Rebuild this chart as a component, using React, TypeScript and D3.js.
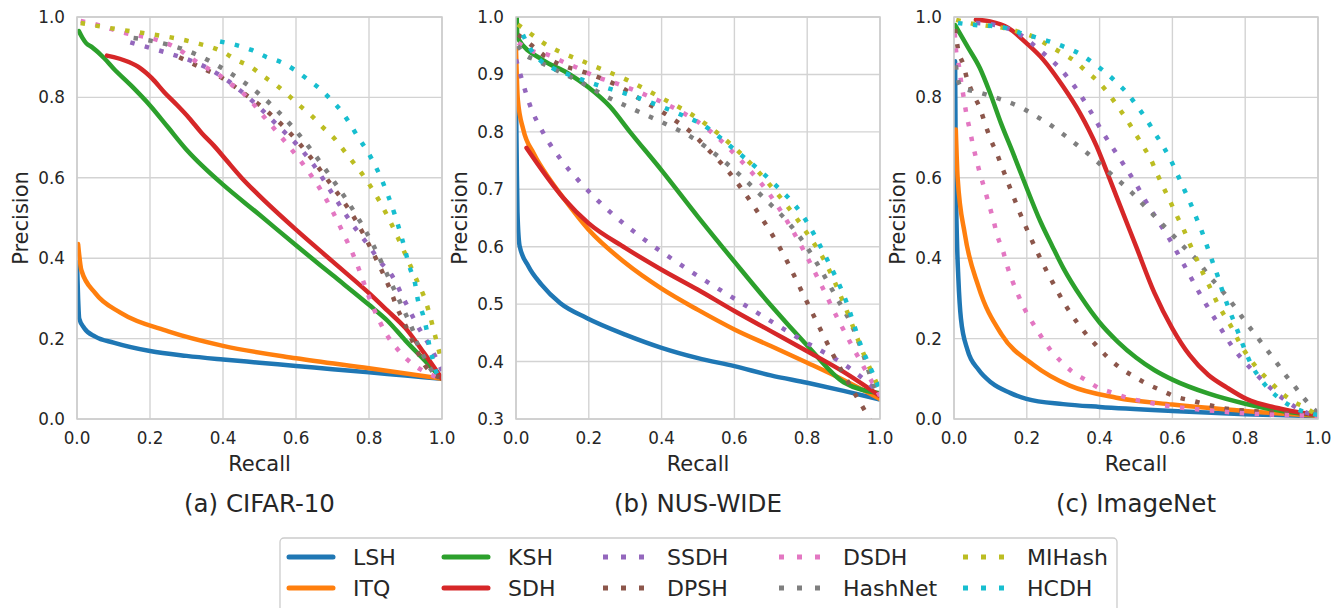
import React from "react";
import * as d3 from "d3";

type Pt = [number, number];

// ---------- labels ----------
const METHODS = ["LSH", "ITQ", "KSH", "SDH", "SSDH", "DPSH", "DSDH", "HashNet", "MIHash", "HCDH"];
const COLORS = ["#1f77b4", "#ff7f0e", "#2ca02c", "#d62728", "#9467bd", "#8c564b", "#e377c2", "#7f7f7f", "#bcbd22", "#17becf"];
const DOTTED = [false, false, false, false, true, true, true, true, true, true];
const DATASETS = ["(a) CIFAR-10", "(b) NUS-WIDE", "(c) ImageNet"];
const X_TICKS = [0, 0.2, 0.4, 0.6, 0.8, 1.0];
const Y_TICKS_A = [0, 0.2, 0.4, 0.6, 0.8, 1.0];
const Y_TICKS_B = [0.3, 0.4, 0.5, 0.6, 0.7, 0.8, 0.9, 1.0];
const Y_TICKS_C = [0, 0.2, 0.4, 0.6, 0.8, 1.0];

// ---------- CIFAR-10 ----------
const CIFAR_LSH: Pt[] = [[0, 0.39], [0.003, 0.3], [0.006, 0.25], [0.02, 0.226], [0.05, 0.205], [0.1, 0.19], [0.2, 0.169], [0.3, 0.157], [0.4, 0.148], [0.5, 0.14], [0.6, 0.132], [0.7, 0.124], [0.8, 0.116], [0.9, 0.108], [1, 0.1]];
const CIFAR_ITQ: Pt[] = [[0.003, 0.435], [0.012, 0.37], [0.05, 0.313], [0.12, 0.264], [0.25, 0.218], [0.4, 0.182], [0.6, 0.151], [0.8, 0.126], [1, 0.1]];
const CIFAR_KSH: Pt[] = [[0.005, 0.965], [0.015, 0.948], [0.025, 0.935], [0.041, 0.925], [0.074, 0.898], [0.1, 0.872], [0.15, 0.828], [0.2, 0.78], [0.25, 0.725], [0.3, 0.67], [0.35, 0.624], [0.4, 0.583], [0.5, 0.508], [0.6, 0.432], [0.7, 0.358], [0.8, 0.284], [0.85, 0.245], [0.9, 0.195], [0.95, 0.148], [1, 0.1]];
const CIFAR_SDH: Pt[] = [[0.082, 0.904], [0.142, 0.888], [0.173, 0.873], [0.205, 0.848], [0.241, 0.811], [0.274, 0.781], [0.307, 0.749], [0.342, 0.711], [0.375, 0.68], [0.41, 0.643], [0.45, 0.601], [0.5, 0.555], [0.6, 0.471], [0.7, 0.392], [0.8, 0.313], [0.85, 0.27], [0.9, 0.226], [0.95, 0.165], [1, 0.1]];
const CIFAR_SSDH: Pt[] = [[0.146, 0.937], [0.185, 0.927], [0.25, 0.91], [0.313, 0.891], [0.36, 0.872], [0.4, 0.85], [0.45, 0.815], [0.5, 0.775], [0.55, 0.73], [0.6, 0.685], [0.65, 0.63], [0.7, 0.56], [0.75, 0.49], [0.8, 0.43], [0.83, 0.392], [0.862, 0.358], [0.9, 0.29], [0.94, 0.221], [0.965, 0.184], [0.984, 0.151], [1, 0.12]];
const CIFAR_DPSH: Pt[] = [[0.28, 0.9], [0.34, 0.874], [0.387, 0.854], [0.45, 0.815], [0.524, 0.763], [0.588, 0.707], [0.693, 0.587], [0.76, 0.5], [0.807, 0.421], [0.844, 0.351], [0.862, 0.313], [0.877, 0.276], [0.896, 0.241], [0.914, 0.204], [0.932, 0.169], [0.953, 0.134], [0.98, 0.11], [1, 0.1]];
const CIFAR_DSDH: Pt[] = [[0.01, 0.99], [0.036, 0.985], [0.077, 0.975], [0.118, 0.963], [0.159, 0.955], [0.2, 0.948], [0.282, 0.918], [0.315, 0.896], [0.351, 0.876], [0.389, 0.856], [0.422, 0.833], [0.459, 0.807], [0.515, 0.749], [0.57, 0.69], [0.624, 0.628], [0.673, 0.562], [0.729, 0.463], [0.766, 0.388], [0.781, 0.351], [0.796, 0.313], [0.811, 0.279], [0.83, 0.241], [0.851, 0.206], [0.876, 0.176], [0.906, 0.147], [0.94, 0.124], [0.975, 0.108], [1, 0.1]];
const CIFAR_HASHNET: Pt[] = [[0.155, 0.948], [0.196, 0.942], [0.319, 0.91], [0.397, 0.873], [0.501, 0.807], [0.593, 0.724], [0.697, 0.6], [0.77, 0.5], [0.811, 0.434], [0.848, 0.363], [0.885, 0.291], [0.904, 0.254], [0.92, 0.221], [0.934, 0.184], [0.953, 0.151], [0.975, 0.117], [1, 0.105]];
const CIFAR_MIHASH: Pt[] = [[0.01, 0.985], [0.107, 0.97], [0.191, 0.959], [0.319, 0.937], [0.4, 0.913], [0.437, 0.893], [0.476, 0.876], [0.51, 0.853], [0.545, 0.831], [0.578, 0.806], [0.611, 0.779], [0.643, 0.754], [0.673, 0.726], [0.704, 0.699], [0.732, 0.667], [0.807, 0.575], [0.85, 0.506], [0.902, 0.405], [0.926, 0.355], [0.956, 0.291], [0.989, 0.179], [1, 0.14]];
const CIFAR_HCDH: Pt[] = [[0.392, 0.939], [0.437, 0.93], [0.478, 0.918], [0.518, 0.901], [0.558, 0.888], [0.597, 0.868], [0.63, 0.846], [0.666, 0.821], [0.696, 0.794], [0.725, 0.765], [0.75, 0.731], [0.77, 0.701], [0.795, 0.667], [0.834, 0.597], [0.87, 0.51], [0.89, 0.45], [0.912, 0.376], [0.926, 0.338], [0.934, 0.296], [0.948, 0.259], [0.958, 0.221], [0.965, 0.184], [0.975, 0.147], [0.989, 0.109], [1, 0.105]];

// ---------- NUS-WIDE ----------
const NUS_LSH: Pt[] = [[0, 0.86], [0.002, 0.75], [0.004, 0.66], [0.01, 0.601], [0.034, 0.566], [0.07, 0.534], [0.121, 0.502], [0.194, 0.476], [0.3, 0.447], [0.4, 0.424], [0.5, 0.406], [0.6, 0.392], [0.7, 0.376], [0.8, 0.363], [0.9, 0.349], [1, 0.334]];
const NUS_ITQ: Pt[] = [[0, 0.945], [0.005, 0.856], [0.02, 0.804], [0.048, 0.763], [0.093, 0.717], [0.13, 0.685], [0.199, 0.63], [0.3, 0.572], [0.4, 0.527], [0.5, 0.49], [0.6, 0.456], [0.7, 0.427], [0.8, 0.398], [0.9, 0.368], [1, 0.335]];
const NUS_KSH: Pt[] = [[0.002, 1.0], [0.004, 0.964], [0.074, 0.925], [0.14, 0.903], [0.198, 0.878], [0.258, 0.844], [0.313, 0.8], [0.4, 0.733], [0.5, 0.652], [0.6, 0.574], [0.7, 0.498], [0.8, 0.428], [0.9, 0.364], [1, 0.345]];
const NUS_SDH: Pt[] = [[0.029, 0.772], [0.13, 0.685], [0.199, 0.641], [0.3, 0.598], [0.4, 0.56], [0.5, 0.525], [0.6, 0.488], [0.7, 0.453], [0.8, 0.418], [0.9, 0.382], [1, 0.34]];
const NUS_SSDH: Pt[] = [[0, 0.926], [0.012, 0.9], [0.038, 0.847], [0.075, 0.798], [0.123, 0.752], [0.178, 0.711], [0.272, 0.653], [0.339, 0.619], [0.483, 0.556], [0.627, 0.499], [0.776, 0.441], [0.922, 0.386], [1, 0.345]];
const NUS_DPSH: Pt[] = [[0.006, 0.969], [0.04, 0.952], [0.075, 0.934], [0.112, 0.92], [0.192, 0.903], [0.275, 0.882], [0.349, 0.854], [0.423, 0.826], [0.492, 0.793], [0.519, 0.775], [0.581, 0.733], [0.657, 0.667], [0.725, 0.598], [0.803, 0.499], [0.881, 0.4], [0.966, 0.306], [0.985, 0.285]];
const NUS_DSDH: Pt[] = [[0.006, 0.955], [0.047, 0.94], [0.088, 0.934], [0.129, 0.922], [0.17, 0.911], [0.209, 0.899], [0.286, 0.882], [0.368, 0.861], [0.445, 0.838], [0.516, 0.81], [0.615, 0.752], [0.707, 0.682], [0.789, 0.595], [0.831, 0.543], [0.89, 0.467], [0.954, 0.392], [1, 0.34]];
const NUS_HASHNET: Pt[] = [[0.005, 0.95], [0.019, 0.938], [0.058, 0.924], [0.099, 0.911], [0.176, 0.887], [0.25, 0.861], [0.327, 0.838], [0.407, 0.815], [0.484, 0.79], [0.556, 0.757], [0.62, 0.722], [0.689, 0.68], [0.744, 0.645], [0.794, 0.604], [0.84, 0.557], [0.881, 0.511], [0.922, 0.464], [0.954, 0.412], [0.982, 0.36], [1, 0.34]];
const NUS_MIHASH: Pt[] = [[0.005, 0.987], [0.038, 0.972], [0.075, 0.955], [0.194, 0.92], [0.313, 0.888], [0.391, 0.862], [0.505, 0.821], [0.606, 0.769], [0.693, 0.711], [0.799, 0.624], [0.849, 0.574], [0.904, 0.496], [0.954, 0.415], [1, 0.35]];
const NUS_HCDH: Pt[] = [[0.019, 0.969], [0.038, 0.946], [0.066, 0.925], [0.1, 0.911], [0.14, 0.901], [0.222, 0.882], [0.304, 0.866], [0.387, 0.847], [0.464, 0.827], [0.503, 0.816], [0.606, 0.766], [0.702, 0.714], [0.789, 0.653], [0.853, 0.58], [0.907, 0.505], [0.95, 0.424], [0.98, 0.38], [1, 0.35]];

// ---------- ImageNet ----------
const IMN_LSH: Pt[] = [[0.003, 0.89], [0.005, 0.6], [0.008, 0.45], [0.012, 0.35], [0.019, 0.25], [0.037, 0.172], [0.067, 0.123], [0.103, 0.09], [0.154, 0.065], [0.199, 0.05], [0.3, 0.037], [0.4, 0.03], [0.6, 0.02], [0.8, 0.012], [1, 0.007]];
const IMN_ITQ: Pt[] = [[0.005, 0.72], [0.01, 0.6], [0.03, 0.459], [0.067, 0.33], [0.131, 0.21], [0.218, 0.135], [0.318, 0.083], [0.446, 0.053], [0.6, 0.036], [0.8, 0.02], [1, 0.008]];
const IMN_KSH: Pt[] = [[0.003, 0.98], [0.038, 0.925], [0.071, 0.873], [0.099, 0.811], [0.129, 0.736], [0.162, 0.662], [0.19, 0.597], [0.238, 0.49], [0.27, 0.43], [0.3, 0.376], [0.35, 0.302], [0.4, 0.24], [0.45, 0.192], [0.5, 0.153], [0.55, 0.122], [0.6, 0.098], [0.7, 0.063], [0.8, 0.038], [0.9, 0.02], [1, 0.01]];
const IMN_SDH: Pt[] = [[0.06, 0.993], [0.099, 0.989], [0.149, 0.973], [0.199, 0.935], [0.245, 0.894], [0.296, 0.832], [0.346, 0.761], [0.392, 0.678], [0.42, 0.615], [0.45, 0.545], [0.5, 0.43], [0.55, 0.315], [0.6, 0.225], [0.648, 0.158], [0.698, 0.11], [0.75, 0.078], [0.803, 0.05], [0.9, 0.025], [0.95, 0.016], [1, 0.01]];
const IMN_SSDH: Pt[] = [[0.06, 0.985], [0.112, 0.98], [0.157, 0.968], [0.192, 0.95], [0.226, 0.925], [0.258, 0.9], [0.29, 0.873], [0.318, 0.843], [0.344, 0.811], [0.368, 0.776], [0.41, 0.711], [0.456, 0.647], [0.501, 0.583], [0.524, 0.546], [0.547, 0.512], [0.593, 0.446], [0.634, 0.38], [0.677, 0.309], [0.721, 0.243], [0.767, 0.177], [0.822, 0.119], [0.854, 0.09], [0.89, 0.061], [0.927, 0.036], [0.959, 0.019], [1, 0.01]];
const IMN_DPSH: Pt[] = [[0.003, 0.97], [0.011, 0.92], [0.025, 0.883], [0.036, 0.846], [0.052, 0.809], [0.071, 0.774], [0.085, 0.736], [0.099, 0.699], [0.117, 0.662], [0.131, 0.629], [0.147, 0.591], [0.163, 0.554], [0.179, 0.517], [0.195, 0.483], [0.213, 0.446], [0.231, 0.411], [0.25, 0.376], [0.271, 0.34], [0.291, 0.307], [0.314, 0.272], [0.339, 0.239], [0.364, 0.21], [0.393, 0.181], [0.424, 0.152], [0.457, 0.127], [0.494, 0.106], [0.529, 0.088], [0.57, 0.071], [0.607, 0.056], [0.652, 0.046], [0.694, 0.036], [0.739, 0.027], [0.85, 0.018], [1, 0.01]];
const IMN_DSDH: Pt[] = [[0.002, 0.96], [0.006, 0.913], [0.014, 0.876], [0.02, 0.836], [0.027, 0.798], [0.034, 0.759], [0.043, 0.721], [0.052, 0.682], [0.071, 0.612], [0.085, 0.569], [0.097, 0.531], [0.108, 0.496], [0.119, 0.456], [0.134, 0.42], [0.146, 0.381], [0.161, 0.342], [0.177, 0.307], [0.195, 0.272], [0.216, 0.239], [0.239, 0.206], [0.263, 0.174], [0.294, 0.143], [0.323, 0.119], [0.36, 0.098], [0.398, 0.077], [0.437, 0.065], [0.478, 0.052], [0.52, 0.044], [0.564, 0.036], [0.607, 0.03], [0.694, 0.022], [0.785, 0.015], [1, 0.008]];
const IMN_HASHNET: Pt[] = [[0.005, 0.88], [0.012, 0.84], [0.019, 0.826], [0.066, 0.813], [0.103, 0.803], [0.145, 0.79], [0.186, 0.774], [0.222, 0.755], [0.259, 0.735], [0.296, 0.711], [0.329, 0.688], [0.364, 0.663], [0.396, 0.638], [0.428, 0.612], [0.46, 0.587], [0.492, 0.56], [0.522, 0.531], [0.552, 0.504], [0.584, 0.473], [0.611, 0.448], [0.639, 0.421], [0.671, 0.392], [0.698, 0.359], [0.726, 0.33], [0.753, 0.301], [0.78, 0.268], [0.803, 0.239], [0.831, 0.206], [0.858, 0.174], [0.884, 0.143], [0.908, 0.113], [0.936, 0.081], [0.961, 0.052], [0.986, 0.027], [1, 0.015]];
const IMN_MIHASH: Pt[] = [[0.006, 0.993], [0.052, 0.983], [0.093, 0.978], [0.135, 0.973], [0.178, 0.963], [0.22, 0.95], [0.258, 0.93], [0.297, 0.91], [0.332, 0.89], [0.363, 0.865], [0.396, 0.839], [0.424, 0.81], [0.45, 0.777], [0.474, 0.746], [0.497, 0.712], [0.52, 0.678], [0.54, 0.647], [0.558, 0.61], [0.576, 0.575], [0.595, 0.539], [0.613, 0.504], [0.631, 0.471], [0.65, 0.431], [0.668, 0.395], [0.686, 0.359], [0.703, 0.328], [0.721, 0.293], [0.741, 0.26], [0.764, 0.226], [0.785, 0.189], [0.808, 0.156], [0.835, 0.124], [0.863, 0.098], [0.895, 0.069], [0.931, 0.044], [0.968, 0.027], [0.995, 0.011]];
const IMN_HCDH: Pt[] = [[0.011, 0.985], [0.058, 0.98], [0.1, 0.978], [0.141, 0.973], [0.184, 0.96], [0.223, 0.95], [0.266, 0.938], [0.305, 0.925], [0.346, 0.908], [0.382, 0.886], [0.415, 0.863], [0.448, 0.836], [0.478, 0.808], [0.504, 0.777], [0.529, 0.745], [0.552, 0.711], [0.575, 0.678], [0.596, 0.643], [0.614, 0.608], [0.632, 0.572], [0.65, 0.536], [0.666, 0.5], [0.682, 0.464], [0.696, 0.428], [0.71, 0.392], [0.724, 0.357], [0.737, 0.32], [0.751, 0.284], [0.767, 0.247], [0.783, 0.21], [0.799, 0.172], [0.817, 0.135], [0.84, 0.102], [0.867, 0.073], [0.899, 0.048], [0.936, 0.027], [0.973, 0.015], [1, 0.01]];

const PANELS = [
  { title: DATASETS[0], yDomain: [0, 1], yTicks: Y_TICKS_A, left: 77, right: 442,
    series: [CIFAR_LSH, CIFAR_ITQ, CIFAR_KSH, CIFAR_SDH, CIFAR_SSDH, CIFAR_DPSH, CIFAR_DSDH, CIFAR_HASHNET, CIFAR_MIHASH, CIFAR_HCDH] },
  { title: DATASETS[1], yDomain: [0.3, 1], yTicks: Y_TICKS_B, left: 516, right: 880,
    series: [NUS_LSH, NUS_ITQ, NUS_KSH, NUS_SDH, NUS_SSDH, NUS_DPSH, NUS_DSDH, NUS_HASHNET, NUS_MIHASH, NUS_HCDH] },
  { title: DATASETS[2], yDomain: [0, 1], yTicks: Y_TICKS_C, left: 954, right: 1318,
    series: [IMN_LSH, IMN_ITQ, IMN_KSH, IMN_SDH, IMN_SSDH, IMN_DPSH, IMN_DSDH, IMN_HASHNET, IMN_MIHASH, IMN_HCDH] },
];

const TOP = 17;
const BOTTOM = 419;
const FONT = "'DejaVu Sans', sans-serif";
const TEXT = "#262626";
const GRID = "#d3d3d3";
const LW = 4.5;

function Panel({ p, idx }: { p: (typeof PANELS)[number]; idx: number }) {
  const x = d3.scaleLinear().domain([0, 1]).range([p.left, p.right]);
  const y = d3.scaleLinear().domain(p.yDomain).range([BOTTOM, TOP]);
  const line = d3.line<Pt>().x((d) => x(d[0])).y((d) => y(d[1])).curve(d3.curveMonotoneX);
  const clipId = `clip${idx}`;
  const cx = (p.left + p.right) / 2;
  return (
    <g>
      <defs>
        <clipPath id={clipId}>
          <rect x={p.left} y={TOP} width={p.right - p.left} height={BOTTOM - TOP} />
        </clipPath>
      </defs>
      {X_TICKS.map((t) => (
        <line key={"gx" + t} x1={x(t)} x2={x(t)} y1={TOP} y2={BOTTOM} stroke={GRID} strokeWidth={1.4} />
      ))}
      {p.yTicks.map((t) => (
        <line key={"gy" + t} x1={p.left} x2={p.right} y1={y(t)} y2={y(t)} stroke={GRID} strokeWidth={1.4} />
      ))}
      <g clipPath={`url(#${clipId})`}>
        {p.series.map((s, i) => (
          <path
            key={METHODS[i]}
            d={line(s) || ""}
            fill="none"
            stroke={COLORS[i]}
            strokeWidth={LW}
            strokeLinecap={DOTTED[i] ? "butt" : "round"}
            strokeLinejoin="round"
            strokeDasharray={DOTTED[i] ? "4.5 10.5" : undefined}
          />
        ))}
      </g>
      <rect x={p.left} y={TOP} width={p.right - p.left} height={BOTTOM - TOP} fill="none" stroke="#cccccc" strokeWidth={1.5} />
      {X_TICKS.map((t) => (
        <text key={"tx" + t} x={x(t)} y={444} textAnchor="middle" fontSize={16.8} fill={TEXT} fontFamily={FONT}>
          {d3.format(".1f")(t)}
        </text>
      ))}
      {p.yTicks.map((t) => (
        <text key={"ty" + t} x={p.left - 12} y={y(t)} dy="0.36em" textAnchor="end" fontSize={16.8} fill={TEXT} fontFamily={FONT}>
          {d3.format(".1f")(t)}
        </text>
      ))}
      <text x={cx} y={471} textAnchor="middle" fontSize={21} fill={TEXT} fontFamily={FONT}>Recall</text>
      <text
        transform={`translate(${p.left - 49},${(TOP + BOTTOM) / 2}) rotate(-90)`}
        textAnchor="middle"
        fontSize={21}
        fill={TEXT}
        fontFamily={FONT}
      >
        Precision
      </text>
      <text x={cx} y={512} textAnchor="middle" fontSize={24.5} fill={TEXT} fontFamily={FONT}>{p.title}</text>
    </g>
  );
}

const LEGEND_TEXT_X = [353, 508, 667, 843, 1027];
const LEGEND_ROW_Y = [557, 588];

export default function App() {
  return (
    <svg width={1338} height={608} style={{ position: "absolute", left: 0, top: 0, background: "#fff" }}>
      <rect x={0} y={0} width={1338} height={608} fill="#fff" />
      {PANELS.map((p, i) => (
        <Panel key={i} p={p} idx={i} />
      ))}
      <rect x={280} y={538} width={837} height={100} rx={4} fill="#fff" stroke="#cccccc" strokeWidth={1.3} />
      {METHODS.map((m, i) => {
        const col = Math.floor(i / 2);
        const row = i % 2;
        const tx = LEGEND_TEXT_X[col];
        const ly = LEGEND_ROW_Y[row];
        const x0 = tx - 64;
        return (
          <g key={m}>
            <line
              x1={x0}
              x2={x0 + (DOTTED[i] ? 41 : 44)}
              y1={ly}
              y2={ly}
              stroke={COLORS[i]}
              strokeWidth={5}
              strokeLinecap={DOTTED[i] ? "butt" : "round"}
              strokeDasharray={DOTTED[i] ? "5 13" : undefined}
            />
            <text x={tx} y={ly} dy="0.36em" fontSize={22} fill={TEXT} fontFamily={FONT}>{m}</text>
          </g>
        );
      })}
    </svg>
  );
}
